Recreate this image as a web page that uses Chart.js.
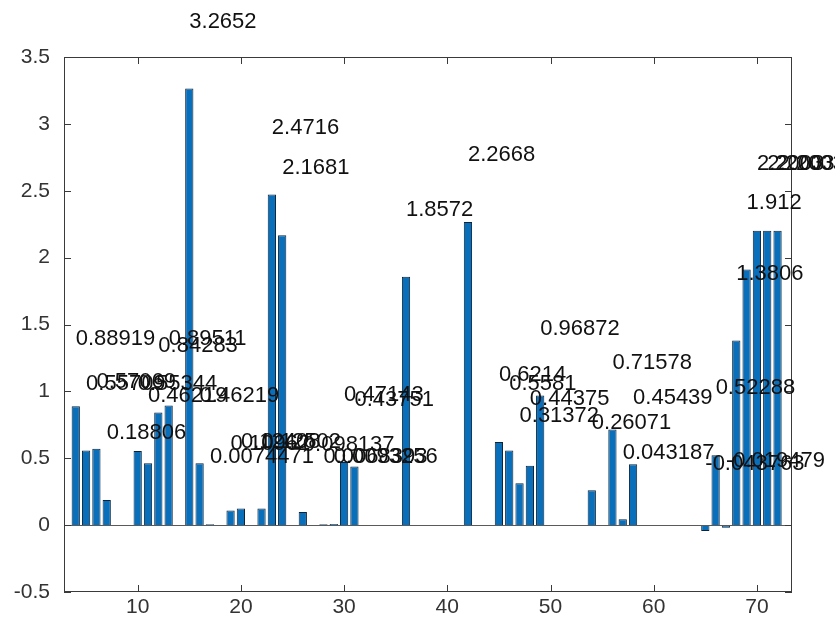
<!DOCTYPE html>
<html>
<head>
<meta charset="utf-8">
<script src="https://cdn.jsdelivr.net/npm/chart.js@4"></script>
<style>
  html, body { margin: 0; padding: 0; background: #fff; }
</style>
</head>
<body>
<canvas id="barChart" width="835" height="620"></canvas>
<script>
// bar positions and heights
const positions = [4, 5, 6, 7, 10, 11, 12, 13, 15, 16, 17, 19, 20, 22, 23, 24, 26, 28, 29, 30, 31,
                   36, 42, 45, 46, 47, 48, 49, 54, 56, 57, 58, 65, 66, 67, 68, 69, 70, 71, 72];
const values = [0.88919, 0.55709, 0.57069, 0.18806, 0.55344, 0.46219, 0.84283, 0.89511, 3.2652, 0.46219,
                0.0074471, 0.10962, 0.12408, 0.12502, 2.4716, 2.1681, 0.098137, 0.0068393, 0.0093256, 0.47143,
                0.43751, 1.8572, 2.2668, 0.6214, 0.5581, 0.31372, 0.44375, 0.96872, 0.26071, 0.71578,
                0.043187, 0.45439, -0.043763, 0.52288, -0.019479, 1.3806, 1.912, 2.2003, 2.2003, 2.2003];
// tick labels
const xTicks = [10, 20, 30, 40, 50, 60, 70];
const yTicks = [-0.5, 0, 0.5, 1, 1.5, 2, 2.5, 3, 3.5];

const LABEL_SHIFT = 0.5; // text is put half a unit above each bar top
const TICK_LEN = 7;

// matlab look: box, inward ticks, zero baseline and the value texts
const matlabAxes = {
    id: 'matlabAxes',
    afterDatasetsDraw(chart) {
        const { ctx, chartArea: a } = chart;
        const x = chart.scales.x, y = chart.scales.y;
        ctx.save();

        // baseline at zero
        const y0 = Math.round(y.getPixelForValue(0)) + 0.5;
        ctx.strokeStyle = '#5a5a5a';
        ctx.lineWidth = 1;
        ctx.beginPath();
        ctx.moveTo(a.left, y0);
        ctx.lineTo(a.right, y0);
        ctx.stroke();

        // box
        ctx.strokeStyle = '#3a3a3a';
        ctx.strokeRect(Math.round(a.left) + 0.5, Math.round(a.top) + 0.5,
                       Math.round(a.width) - 1, Math.round(a.height) - 1);

        // inward ticks
        ctx.beginPath();
        xTicks.forEach(v => {
            const px = Math.round(x.getPixelForValue(v)) + 0.5;
            ctx.moveTo(px, a.bottom); ctx.lineTo(px, a.bottom - TICK_LEN);
            ctx.moveTo(px, a.top); ctx.lineTo(px, a.top + TICK_LEN);
        });
        yTicks.forEach(v => {
            const py = Math.round(y.getPixelForValue(v)) + 0.5;
            ctx.moveTo(a.left, py); ctx.lineTo(a.left + TICK_LEN, py);
            ctx.moveTo(a.right, py); ctx.lineTo(a.right - TICK_LEN, py);
        });
        ctx.stroke();

        // value labels, left aligned at the bar position
        ctx.font = '22px "Liberation Sans", Arial, sans-serif';
        ctx.fillStyle = '#111';
        ctx.textAlign = 'left';
        ctx.textBaseline = 'middle';
        positions.forEach((p, i) => {
            ctx.fillText(String(values[i]), x.getPixelForValue(p), y.getPixelForValue(values[i] + LABEL_SHIFT));
        });
        ctx.restore();
    }
};

const tickFont = { family: '"Liberation Sans", Arial, sans-serif', size: 21 };

new Chart(document.getElementById('barChart'), {
    type: 'bar',
    data: {
        datasets: [{
            data: positions.map((p, i) => ({ x: p, y: values[i] })),
            backgroundColor: '#0a6fba',
            borderColor: '#0d2438',
            borderWidth: 1,
            barPercentage: 0.8,
            categoryPercentage: 1
        }]
    },
    options: {
        responsive: false,
        animation: false,
        layout: { padding: { top: 57, right: 43, left: 0, bottom: 0 } },
        plugins: { legend: { display: false }, tooltip: { enabled: false } },
        scales: {
            x: {
                type: 'linear',
                min: 2.86,
                max: 73.4,
                offset: false,
                grid: { display: false, drawTicks: false },
                border: { display: false },
                afterBuildTicks: s => { s.ticks = xTicks.map(v => ({ value: v })); },
                afterFit: s => { s.height = 28; },
                ticks: { font: tickFont, color: '#333', padding: 3, maxRotation: 0, autoSkip: false,
                         callback: v => String(v) }
            },
            y: {
                min: -0.5,
                max: 3.5,
                grid: { display: false, drawTicks: false },
                border: { display: false },
                afterBuildTicks: s => { s.ticks = yTicks.map(v => ({ value: v })); },
                afterFit: s => { s.width = 64; },
                ticks: { font: tickFont, color: '#333', padding: 14, autoSkip: false,
                         callback: v => String(v) }
            }
        }
    },
    plugins: [matlabAxes]
});
</script>
</body>
</html>
